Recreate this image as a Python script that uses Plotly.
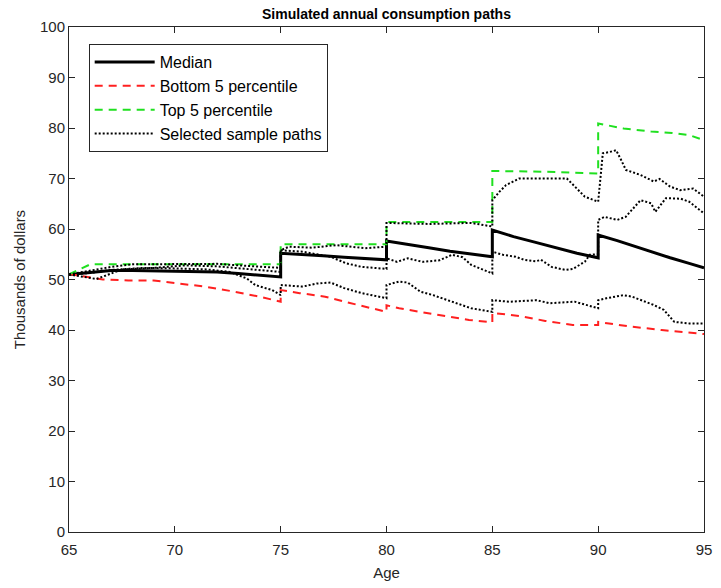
import plotly.graph_objects as go

# Percentile bands and median consumption (thousands of dollars) by age.
median_age = [65, 66, 67, 68, 70, 72, 73, 74, 75, 75, 76, 77, 78, 79, 80, 80, 81, 82, 83, 84, 85,
              85, 86, 87, 88, 89, 90, 90, 90.9, 92.1, 93.4, 94.3, 95]
median_val = [51.0, 51.4, 51.8, 51.8, 51.7, 51.5, 51.2, 50.9, 50.5, 55.2, 55.0, 54.7, 54.4, 54.1, 53.9,
              57.6, 57.0, 56.3, 55.6, 55.0, 54.5, 59.8, 58.5, 57.4, 56.3, 55.2, 54.3, 58.8, 57.7,
              56.0, 54.3, 53.2, 52.3]

bottom_age = [65, 66.6, 67.8, 69, 70.2, 71.4, 72.8, 74, 75, 75, 75.9, 77.1, 78.7, 80, 80, 80.6, 82.4,
              83.9, 85, 85, 86.4, 87.5, 88.8, 90, 90, 91.5, 93, 95]
bottom_val = [51.1, 50.0, 49.8, 49.8, 49.2, 48.6, 47.6, 46.6, 45.6, 47.9, 47.3, 46.6, 44.9, 43.6, 44.9,
              44.3, 43.0, 42.0, 41.5, 43.4, 42.7, 41.8, 41.0, 41.0, 41.6, 40.7, 40.0, 39.2]

top_age = [65, 66, 70, 75, 75, 80, 80, 85, 85, 88, 90, 90, 91.2, 92.5, 93.5, 94.3, 95]
top_val = [51.0, 53.0, 53.0, 53.0, 57.0, 57.0, 61.4, 61.4, 71.5, 71.3, 71.0, 80.9, 79.9, 79.3, 79.0,
           78.6, 77.6]

# Three selected simulated sample paths.
path_a_age = [65, 66, 67, 68, 70, 72, 73, 74, 75, 75, 75.4, 76.5, 77.6, 79, 80, 80, 82, 84, 84.5, 85,
              85, 85.34, 85.65, 86.27, 87.36, 88.52, 88.9, 89.37, 90, 90.22, 90.5, 90.85, 91.08,
              91.31, 92.0, 92.63, 92.9, 93.4, 93.87, 94.49, 95]
path_a_val = [51.0, 51.8, 52.5, 53.0, 53.0, 53.1, 52.8, 52.5, 52.3, 55.8, 56.5, 56.3, 56.8, 56.2, 56.5,
              61.2, 61.0, 61.2, 60.8, 60.5, 65.7, 67.4, 68.7, 70.0, 70.0, 70.0, 68.4, 66.4, 65.4,
              75.0, 75.2, 75.6, 73.7, 71.7, 70.7, 69.4, 69.9, 68.4, 67.7, 68.0, 66.4]

path_b_age = [65, 65.6, 66.3, 67, 67.5, 69, 70.5, 72, 73.5, 75, 75, 76.04, 77.36, 78.1, 78.83, 79.6,
              80, 80, 80.5, 81, 81.7, 82.5, 83.1, 83.6, 84, 85, 85, 85.5, 86.1, 86.5, 87.05, 87.3,
              87.8, 88.44, 88.8, 89.37, 89.6, 90, 90, 90.3, 90.9, 91.3, 92.0, 92.5, 92.7, 93.2,
              93.9, 94.3, 95]
path_b_val = [51.0, 50.6, 50.1, 51.2, 52.0, 52.3, 52.8, 52.6, 52.0, 51.5, 55.8, 55.5, 54.5, 53.2, 52.5,
              52.3, 52.1, 54.2, 53.5, 54.2, 53.5, 53.8, 54.9, 54.4, 52.9, 51.2, 55.5, 54.9, 54.5,
              53.9, 53.6, 53.9, 52.5, 51.9, 52.1, 53.5, 54.9, 55.0, 61.8, 62.4, 61.8, 62.4, 65.7,
              65.1, 63.4, 66.1, 66.0, 65.4, 63.1]

path_c_age = [65, 66, 67, 68.5, 70, 71.5, 72.6, 73.4, 73.8, 74.6, 75, 75, 76.04, 76.7, 77.36, 78.0,
              78.83, 79.6, 80, 80, 80.6, 81.0, 81.6, 82.2, 83.1, 84.0, 85, 85, 85.8, 87.1, 87.7,
              88.9, 90, 90, 90.4, 91.2, 91.6, 92.6, 93.1, 93.6, 94.3, 95]
path_c_val = [51.0, 51.3, 51.9, 52.3, 52.2, 52.0, 51.5, 50.2, 48.9, 47.9, 46.9, 48.9, 48.6, 49.2, 49.4,
              48.3, 47.3, 46.6, 46.3, 48.9, 49.6, 49.4, 47.6, 46.9, 45.6, 44.3, 43.6, 45.9, 45.6,
              45.9, 45.3, 45.6, 44.3, 45.9, 46.3, 46.9, 46.6, 45.0, 44.0, 41.6, 41.3, 41.3]

x_ticks = [65, 70, 75, 80, 85, 90, 95]
y_ticks = [0, 10, 20, 30, 40, 50, 60, 70, 80, 90, 100]

FONT = "Liberation Sans, Arial, Helvetica, sans-serif"
AXIS_COLOR = "#262626"

fig = go.Figure()

fig.add_trace(go.Scatter(x=median_age, y=median_val, mode="lines", name="Median",
                         line=dict(color="black", width=3)))
fig.add_trace(go.Scatter(x=bottom_age, y=bottom_val, mode="lines", name="Bottom 5 percentile",
                         line=dict(color="#ff2020", width=2, dash="8px,6px")))
fig.add_trace(go.Scatter(x=top_age, y=top_val, mode="lines", name="Top 5 percentile",
                         line=dict(color="#20e020", width=2, dash="8px,6px")))

for i, (ax, vy) in enumerate([(path_a_age, path_a_val), (path_b_age, path_b_val),
                              (path_c_age, path_c_val)]):
    fig.add_trace(go.Scatter(x=ax, y=vy, mode="lines", name="Selected sample paths",
                             legendgroup="samples", showlegend=(i == 0),
                             line=dict(color="black", width=2, dash="2px,2px")))

fig.update_layout(
    width=721, height=588,
    margin=dict(l=69, r=9, t=27, b=55),
    paper_bgcolor="white", plot_bgcolor="white",
    font=dict(family=FONT, size=15, color=AXIS_COLOR),
    title=dict(text="<b>Simulated annual consumption paths</b>", x=0.5, xanchor="center",
               xref="paper", y=1 - 14 / 588, yanchor="middle",
               font=dict(family=FONT, size=14, color="black")),
    legend=dict(x=0.031, y=0.966, xanchor="left", yanchor="top",
                bgcolor="white", bordercolor=AXIS_COLOR, borderwidth=1,
                font=dict(family=FONT, size=16, color="black"),
                tracegroupgap=0, itemwidth=60),
    showlegend=True,
)

fig.update_xaxes(range=[65, 95], tickvals=x_ticks, ticks="inside", ticklen=6,
                 tickcolor=AXIS_COLOR, showline=True, linecolor=AXIS_COLOR, linewidth=1,
                 mirror="ticks", showgrid=False, zeroline=False, ticklabelstandoff=4,
                 title=dict(text="Age", standoff=10, font=dict(size=15)),
                 tickfont=dict(size=15))
fig.update_yaxes(range=[0, 100], tickvals=y_ticks, ticks="inside", ticklen=6,
                 tickcolor=AXIS_COLOR, showline=True, linecolor=AXIS_COLOR, linewidth=1,
                 mirror="ticks", showgrid=False, zeroline=False,
                 title=dict(text="Thousands of dollars", standoff=10, font=dict(size=15)),
                 tickfont=dict(size=15))

fig.write_html("out.html")
